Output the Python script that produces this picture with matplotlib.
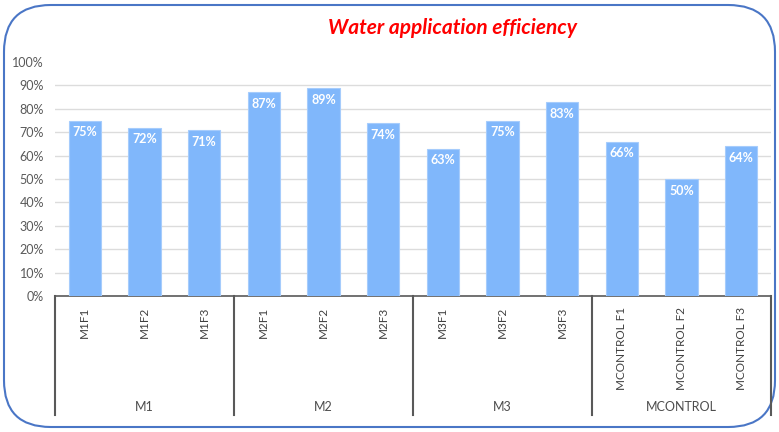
import matplotlib.pyplot as plt
from matplotlib.patches import FancyBboxPatch
from matplotlib.transforms import blended_transform_factory

groups = ["M1", "M2", "M3", "MCONTROL"]
categories = ["M1F1", "M1F2", "M1F3", "M2F1", "M2F2", "M2F3",
              "M3F1", "M3F2", "M3F3", "MCONTROL F1", "MCONTROL F2", "MCONTROL F3"]
values = [75, 72, 71, 87, 89, 74, 63, 75, 83, 66, 50, 64]

plt.rcParams['font.family'] = ['Lato', 'DejaVu Sans']

fig = plt.figure(figsize=(7.79, 4.32), dpi=100)

# rounded frame around the chart
frame = FancyBboxPatch((4 / 779, 5 / 432), 771 / 779, 422 / 432,
                       boxstyle="round,pad=0,rounding_size=0.06",
                       transform=fig.transFigure, facecolor="white", edgecolor="#4a76c6",
                       linewidth=1.5, mutation_aspect=779 / 432, zorder=-10)
fig.patches.append(frame)

ax = fig.add_axes([55 / 779, 136 / 432, 716 / 779, 234 / 432])
ax.set_facecolor("none")

x = list(range(len(categories)))
bars = ax.bar(x, values, width=0.54, color="#80b7fb", edgecolor="#a6ccfc", linewidth=0.8, zorder=3)
for xi, v in zip(x, values):
    ax.text(xi, v - 2.5, f"{v}%", ha="center", va="top", color="white",
            fontsize=9, fontweight="bold", zorder=4)

ax.set_xlim(-0.5, len(categories) - 0.5)
ax.set_ylim(0, 100)
ax.set_yticks(range(0, 101, 10))
ax.set_yticklabels([f"{t}%" for t in range(0, 101, 10)], color="#595959", fontsize=9)
for t in range(10, 100, 10):
    ax.axhline(t, color="#dcdcdc", linewidth=1, zorder=0)
ax.tick_params(axis="y", length=0, pad=8)

ax.set_xticks(x)
ax.set_xticklabels(categories, rotation=90, color="#404040", fontsize=8.5, va="top")
ax.tick_params(axis="x", length=0, pad=8)

for s in ["top", "right", "left"]:
    ax.spines[s].set_visible(False)
ax.spines["bottom"].set_color("#595959")
ax.spines["bottom"].set_linewidth(1.2)

# group separators and labels below the axis
trans = blended_transform_factory(ax.transData, ax.transAxes)
for b in [-0.5, 2.5, 5.5, 8.5, 11.5]:
    ax.plot([b, b], [0, -0.51], color="#595959", linewidth=1.5, transform=trans, clip_on=False)
for i, g in enumerate(groups):
    ax.text(i * 3 + 1, -0.475, g, ha="center", va="center", color="#4d4d4d",
            fontsize=9, transform=trans)

fig.text(452 / 779, 1 - 28 / 432, "Water application efficiency", color="red",
         fontsize=15, fontweight="bold", fontstyle="italic", ha="center", va="center")

fig.savefig("out.png", dpi=100)
